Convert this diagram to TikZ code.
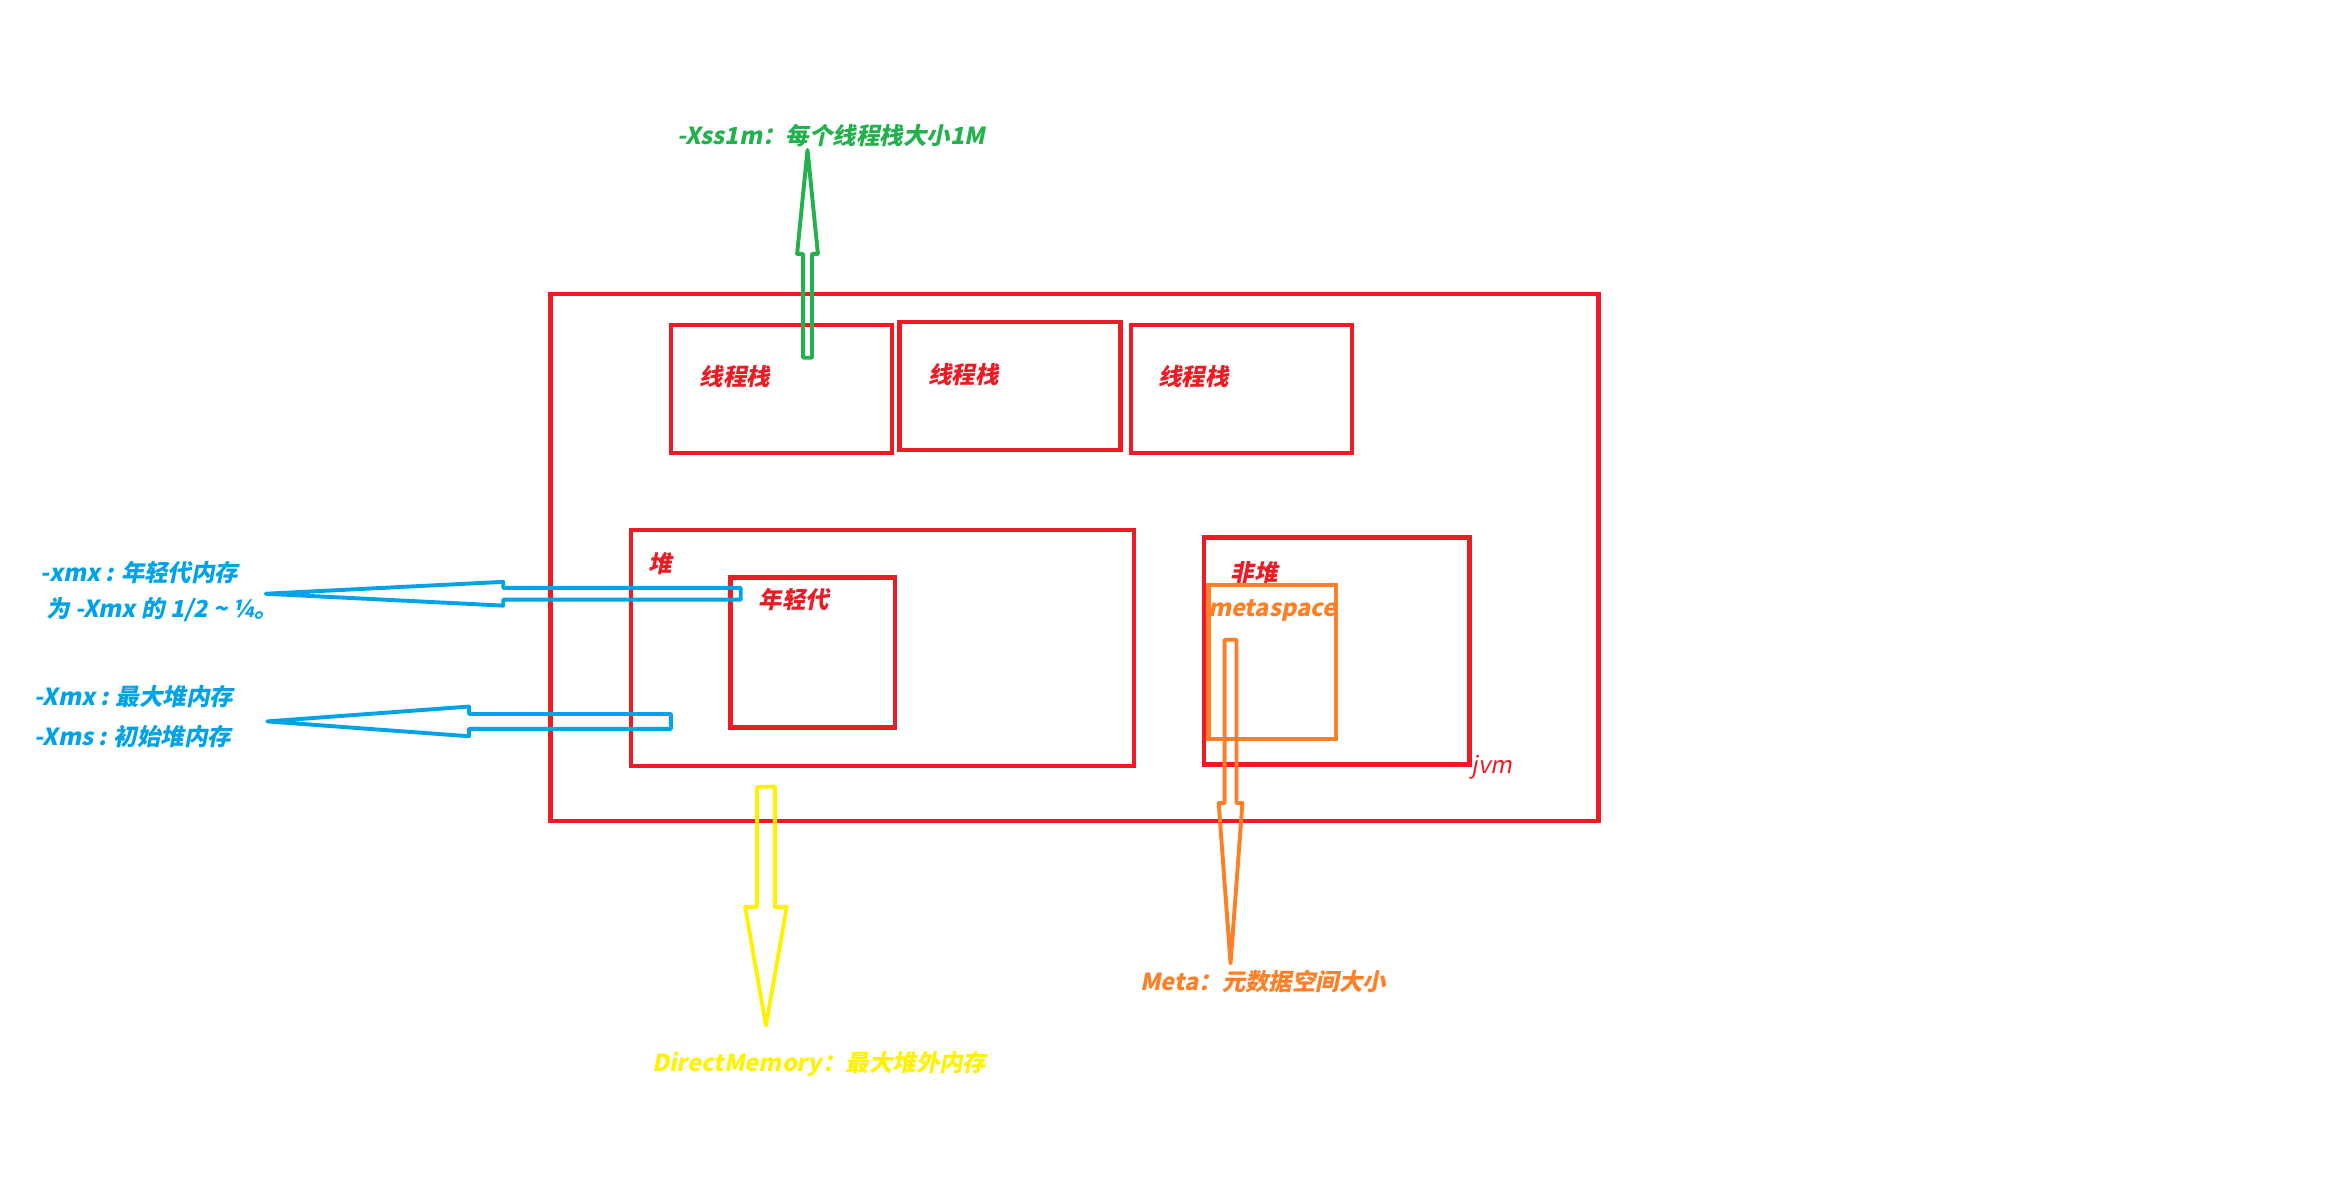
\documentclass[tikz,border=0pt]{standalone}
\usepackage{fontspec}
\setmainfont{Noto Sans CJK SC}[BoldFeatures={FakeSlant=0.2}, ItalicFont=*, ItalicFeatures={FakeSlant=0.2}]
\definecolor{jvmred}{HTML}{ED1C24}
\definecolor{xssgreen}{HTML}{22B14C}
\definecolor{xmxblue}{HTML}{00A2E8}
\definecolor{directyellow}{HTML}{FFF200}
\definecolor{metaorange}{HTML}{FF7F27}
\tikzset{
  box/.style={draw=jvmred, line width=1.7pt},
  tag/.style={font=\fontsize{9}{11}\selectfont\bfseries, inner sep=0pt},
  fat/.style={line width=1.5pt, line join=round},
}

\begin{document}
\begin{tikzpicture}[x=0.02cm, y=-0.02cm]
    \useasboundingbox (0,0) rectangle (1567,810);

    % jvm
    \draw[box] (371,198) rectangle (1077,553);
    \node[tag, jvmred, font=\fontsize{9}{11}\selectfont\itshape] (jvmtag) at (1005,517) {jvm};

    % thread stacks
    \draw[box] (452,219) rectangle (601,305);
    \draw[box] (606,217) rectangle (755,303);
    \draw[box] (762,219) rectangle (911,305);
    \node[tag, jvmred] (stackA) at (495,254) {线程栈};
    \node[tag, jvmred] (stackB) at (649,252) {线程栈};
    \node[tag, jvmred] (stackC) at (804,254) {线程栈};

    % heap
    \draw[box] (425,357) rectangle (764,516);
    \node[tag, jvmred] (heaptag) at (445,380) {堆};
    \draw[box] (492,389) rectangle (603,490);
    \node[tag, jvmred] (youngtag) at (535,404) {年轻代};

    % non-heap
    \draw[box] (811,362) rectangle (990,515);
    \node[tag, jvmred] (nonheaptag) at (845,386) {非堆};
    \draw[draw=metaorange, line width=1.7pt] (814,394) rectangle (900,498);
    \node[tag, metaorange] (metatag) at (857,411) {metaspace};

    % -Xss
    \draw[fat, xssgreen] (541,241) -- (541,171) -- (537,171) -- (544,101)
                         -- (551,171) -- (547,171) -- (547,241) -- cycle;
    \node[tag, xssgreen] (xsstag) at (560,91) {-Xss1m：每个线程栈大小1M};

    % -xmx young
    \draw[fat, xmxblue] (499,396) -- (339,396) -- (339,392) -- (179,400)
                        -- (339,408) -- (339,404) -- (499,404) -- cycle;
    \node[tag, xmxblue, anchor=west] (youngA) at (27,386) {-xmx : 年轻代内存};
    \node[tag, xmxblue, anchor=west] (youngB) at (31,411) {为 -Xmx 的 1/2 \textasciitilde{} ¼。};

    % -Xmx / -Xms
    \draw[fat, xmxblue] (452,481) -- (316,481) -- (316,476) -- (180,486)
                        -- (316,496) -- (316,491) -- (452,491) -- cycle;
    \node[tag, xmxblue, anchor=west] (xmxtag) at (23,469) {-Xmx : 最大堆内存};
    \node[tag, xmxblue, anchor=west] (xmstag) at (23,496) {-Xms : 初始堆内存};

    % direct memory
    \draw[fat, directyellow] (510,530) -- (510,611) -- (502,611) -- (516,691)
                             -- (530,611) -- (522,611) -- (522,530) -- cycle;
    \node[tag, directyellow] (directtag) at (552,717) {DirectMemory：最大堆外内存};

    % metaspace size
    \draw[fat, metaorange] (825,431) -- (825,541) -- (821,541) -- (829,649)
                           -- (837,541) -- (833,541) -- (833,431) -- cycle;
    \node[tag, metaorange] (metasize) at (851,661) {Meta：元数据空间大小};
\end{tikzpicture}
\end{document}
